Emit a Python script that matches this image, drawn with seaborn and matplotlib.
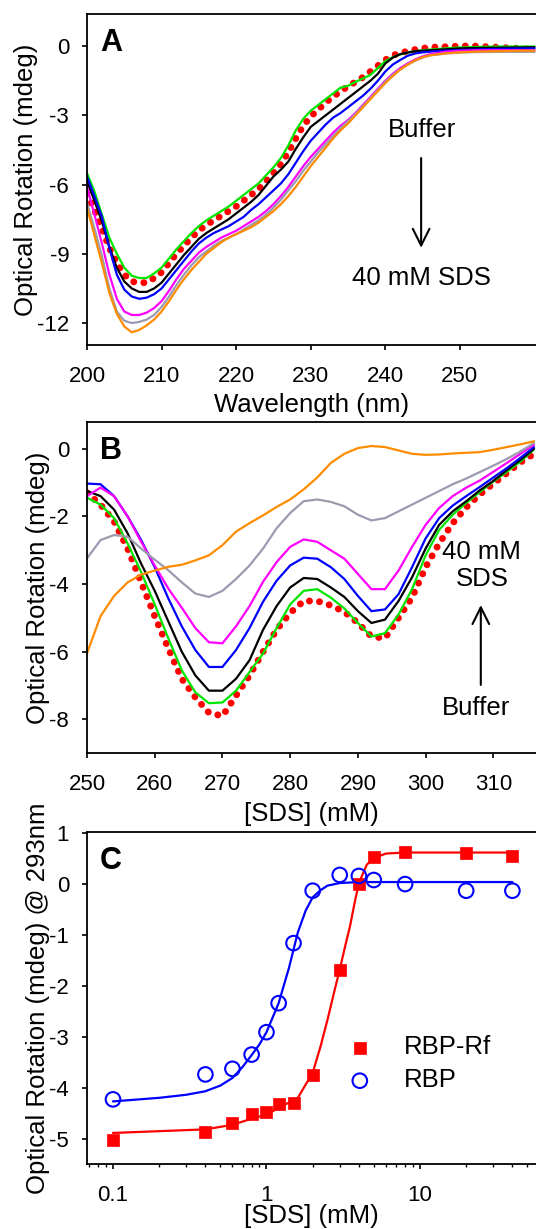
import numpy as np
import pandas as pd
import seaborn as sns
import matplotlib.pyplot as plt
from matplotlib.ticker import FixedLocator, LogLocator, NullFormatter

sns.set_style("ticks")
plt.rcParams["font.family"] = ["Liberation Sans", "DejaVu Sans"]
plt.rcParams["axes.unicode_minus"] = False
for k in ["text.color", "axes.labelcolor", "xtick.color", "ytick.color", "axes.edgecolor"]:
    plt.rcParams[k] = "black"

# ---- panel A : far-UV spectra ----
wl_a = list(range(200, 247)) + [248, 250, 252, 255, 258, 260]

a_buffer = [-6.4, -7.1, -7.9, -8.75, -9.4, -9.9, -10.2, -10.25, -10.25, -10.05,
            -9.8, -9.4, -9.0, -8.65, -8.3, -8.0, -7.75, -7.55, -7.35, -7.15,
            -6.95, -6.7, -6.45, -6.2, -5.85, -5.5, -5.1, -4.6, -4.0, -3.45,
            -3.05, -2.75, -2.45, -2.2, -1.95, -1.75, -1.55, -1.35, -1.1, -0.85,
            -0.6, -0.4, -0.3, -0.22, -0.15, -0.1, -0.05,
            -0.03, 0.0, 0.0, -0.05, -0.1, -0.15]
a_green = [-5.5, -6.3, -7.3, -8.3, -9.0, -9.6, -9.95, -10.05, -10.05, -9.85,
           -9.6, -9.2, -8.8, -8.45, -8.1, -7.8, -7.55, -7.35, -7.15, -6.95,
           -6.7, -6.45, -6.2, -5.95, -5.6, -5.25, -4.85, -4.3, -3.65, -3.15,
           -2.8, -2.55, -2.3, -2.05, -1.8, -1.72, -1.55, -1.4, -1.25, -0.95,
           -0.65, -0.48, -0.36, -0.28, -0.22, -0.18, -0.15,
           -0.1, -0.06, -0.04, -0.02, -0.02, -0.02]
a_black = [-5.85, -6.7, -7.6, -8.7, -9.6, -10.2, -10.5, -10.65, -10.65, -10.5,
           -10.25, -9.85, -9.45, -9.05, -8.7, -8.35, -8.1, -7.9, -7.7, -7.5,
           -7.25, -7.0, -6.75, -6.45, -6.05, -5.65, -5.35, -5.0, -4.45, -3.95,
           -3.5, -3.25, -3.0, -2.75, -2.5, -2.25, -2.0, -1.75, -1.5, -1.2,
           -0.75, -0.5, -0.35, -0.28, -0.22, -0.2, -0.18,
           -0.14, -0.1, -0.08, -0.07, -0.06, -0.05]
a_blue = [-5.65, -6.5, -7.4, -8.75, -9.9, -10.55, -10.85, -10.95, -10.9, -10.75,
          -10.5, -10.1, -9.7, -9.3, -8.9, -8.55, -8.3, -8.1, -7.95, -7.8,
          -7.6, -7.4, -7.1, -6.85, -6.55, -6.25, -5.95, -5.55, -5.05, -4.55,
          -4.1, -3.75, -3.4, -3.1, -2.9, -2.65, -2.4, -2.15, -1.85, -1.5,
          -1.1, -0.8, -0.6, -0.42, -0.32, -0.27, -0.24,
          -0.2, -0.17, -0.15, -0.12, -0.1, -0.1]
a_magenta = [-6.1, -7.3, -8.55, -9.9, -10.95, -11.5, -11.65, -11.65, -11.55, -11.35,
             -11.05, -10.6, -10.1, -9.65, -9.3, -8.95, -8.7, -8.5, -8.3, -8.15,
             -8.0, -7.8, -7.6, -7.4, -7.15, -6.85, -6.5, -6.1, -5.65, -5.2,
             -4.8, -4.45, -4.1, -3.75, -3.45, -3.2, -2.9, -2.55, -2.2, -1.85,
             -1.5, -1.2, -0.95, -0.75, -0.58, -0.45, -0.35,
             -0.25, -0.2, -0.18, -0.17, -0.18, -0.18]
a_gray = [-6.8, -7.9, -9.1, -10.5, -11.5, -11.9, -12.0, -11.95, -11.85, -11.65,
          -11.3, -10.85, -10.35, -9.9, -9.5, -9.15, -8.9, -8.65, -8.45, -8.3,
          -8.15, -7.95, -7.75, -7.55, -7.3, -7.0, -6.65, -6.25, -5.85, -5.4,
          -5.0, -4.6, -4.25, -3.9, -3.55, -3.25, -2.95, -2.6, -2.25, -1.9,
          -1.55, -1.25, -1.0, -0.8, -0.63, -0.5, -0.4,
          -0.32, -0.28, -0.26, -0.25, -0.25, -0.25]
a_orange = [-7.0, -8.2, -9.4, -10.7, -11.6, -12.15, -12.4, -12.3, -12.1, -11.85,
            -11.5, -11.05, -10.55, -10.1, -9.7, -9.35, -9.0, -8.75, -8.5, -8.3,
            -8.15, -8.0, -7.85, -7.65, -7.4, -7.15, -6.85, -6.5, -6.1, -5.65,
            -5.2, -4.8, -4.4, -4.0, -3.65, -3.35, -3.0, -2.65, -2.3, -1.95,
            -1.6, -1.3, -1.02, -0.8, -0.62, -0.48, -0.4,
            -0.32, -0.27, -0.24, -0.22, -0.2, -0.2]

# ---- panel B : near-UV spectra ----
wl_b = list(range(250, 317, 2))

b_buffer = [-1.3, -1.65, -2.15, -2.95, -3.95, -4.95, -5.9, -6.8, -7.35, -7.8,
            -7.9, -7.3, -6.7, -6.0, -5.35, -4.85, -4.5, -4.5, -4.63, -4.82,
            -5.15, -5.55, -5.6, -5.0, -4.4, -3.5, -2.8, -2.2, -1.73, -1.35,
            -1.03, -0.72, -0.4, -0.15]
b_green = [-1.45, -1.65, -2.05, -2.8, -3.65, -4.6, -5.6, -6.55, -7.2, -7.52,
           -7.5, -7.15, -6.6, -6.05, -5.3, -4.6, -4.2, -4.15, -4.4, -4.72,
           -5.15, -5.55, -5.45, -4.9, -4.15, -3.15, -2.4, -1.95, -1.6, -1.28,
           -0.97, -0.68, -0.38, -0.02]
b_black = [-1.25, -1.4, -1.8, -2.5, -3.4, -4.2, -5.1, -6.0, -6.7, -7.15,
           -7.15, -6.8, -6.25, -5.35, -4.65, -4.1, -3.82, -3.85, -4.1, -4.38,
           -4.8, -5.15, -5.05, -4.5, -3.8, -2.95, -2.25, -1.85, -1.55, -1.23,
           -0.95, -0.63, -0.33, 0.0]
b_blue = [-1.03, -1.05, -1.4, -2.0, -2.7, -3.5, -4.42, -5.25, -5.95, -6.45,
          -6.45, -5.95, -5.3, -4.52, -3.9, -3.45, -3.22, -3.25, -3.5, -3.85,
          -4.35, -4.8, -4.75, -4.3, -3.5, -2.65, -2.05, -1.68, -1.4, -1.13,
          -0.85, -0.57, -0.27, 0.05]
b_magenta = [-1.4, -1.15, -1.4, -2.0, -2.75, -3.45, -4.13, -4.7, -5.3, -5.72,
             -5.75, -5.25, -4.65, -3.93, -3.35, -2.9, -2.68, -2.75, -3.0, -3.25,
             -3.7, -4.15, -4.15, -3.6, -2.9, -2.25, -1.75, -1.4, -1.15, -0.94,
             -0.68, -0.42, -0.15, 0.12]
b_gray = [-3.24, -2.7, -2.55, -2.6, -2.95, -3.28, -3.59, -3.95, -4.28, -4.38,
          -4.2, -3.85, -3.45, -2.95, -2.35, -1.9, -1.55, -1.5, -1.57, -1.7,
          -1.95, -2.12, -2.05, -1.85, -1.65, -1.45, -1.25, -1.05, -0.88, -0.69,
          -0.5, -0.3, -0.08, 0.17]
b_orange = [-6.05, -4.95, -4.35, -3.95, -3.72, -3.6, -3.49, -3.43, -3.3, -3.15,
            -2.85, -2.45, -2.2, -1.97, -1.72, -1.5, -1.2, -0.85, -0.42, -0.15,
            0.02, 0.08, 0.05, -0.05, -0.15, -0.18, -0.17, -0.14, -0.12, -0.1,
            -0.03, 0.05, 0.13, 0.22]

# ---- panel C : signal at 293 nm vs SDS ----
sds = [0.1, 0.4, 0.6, 0.8, 1.0, 1.2, 1.5, 2, 3, 4, 5, 8, 20, 40]
rbp_rf = [-5.03, -4.87, -4.69, -4.52, -4.48, -4.33, -4.3, -3.76, -1.68, 0.0, 0.53, 0.64, 0.61, 0.55]
rbp = [-4.23, -3.74, -3.63, -3.35, -2.91, -2.34, -1.16, -0.13, 0.18, 0.16, 0.08, 0.0, -0.13, -0.13]

fit_x_rf = [0.1, 0.4, 0.6, 0.8, 1.0, 1.2, 1.6, 1.8, 2.0, 2.25, 2.5, 2.75, 3.0,
            3.25, 3.5, 3.75, 4.0, 4.5, 5.0, 6.0, 8.0, 40]
fit_rf = [-4.89, -4.82, -4.73, -4.61, -4.53, -4.4, -4.2, -3.94, -3.71, -3.19, -2.66,
          -2.14, -1.68, -1.23, -0.83, -0.37, 0.02, 0.38, 0.51, 0.6, 0.62, 0.62]
fit_x_rbp = [0.1, 0.2, 0.3, 0.4, 0.5, 0.6, 0.7, 0.8, 0.9, 1.0, 1.2, 1.4, 1.6,
             1.8, 2.0, 2.25, 2.5, 3.0, 4.0, 40]
fit_rbp = [-4.27, -4.2, -4.14, -4.07, -3.96, -3.81, -3.59, -3.36, -3.15, -2.91,
           -2.34, -1.65, -0.95, -0.52, -0.26, -0.12, -0.03, 0.02, 0.04, 0.04]

names = ["s1", "s2", "s3", "s4", "s5", "s6"]
pal = {"s1": "#00e600", "s2": "black", "s3": "#0000ff",
       "s4": "#ff00ff", "s5": "#9b9bb0", "s6": "#ff8c00"}

df_a = pd.DataFrame({
    "wl": wl_a * 6,
    "mdeg": a_green + a_black + a_blue + a_magenta + a_gray + a_orange,
    "sample": np.repeat(names, len(wl_a)),
})
df_b = pd.DataFrame({
    "wl": wl_b * 6,
    "mdeg": b_green + b_black + b_blue + b_magenta + b_gray + b_orange,
    "sample": np.repeat(names, len(wl_b)),
})

lab_fs = 18.5
tick_fs = 16
dots = dict(color="red", lw=5, linestyle=(0, (0.01, 1.45)), dash_capstyle="round")
arrow = dict(arrowstyle="->, head_length=0.6, head_width=0.3", lw=1.5,
             color="black", mutation_scale=20, shrinkA=0, shrinkB=0)

fig = plt.figure(figsize=(5.36, 12.29), dpi=100)
ax_a = fig.add_axes([0.1623, 0.7193, 0.8377, 0.2693])
ax_b = fig.add_axes([0.1623, 0.3871, 0.8377, 0.2698])
ax_c = fig.add_axes([0.1623, 0.0529, 0.8377, 0.2704])


def style(ax):
    ax.spines["right"].set_visible(False)
    for s in ["left", "bottom", "top"]:
        ax.spines[s].set_linewidth(1.3)
    ax.tick_params(direction="out", length=3.8, width=1.2,
                   labelsize=tick_fs, top=False, right=False)
    ax.tick_params(axis="x", pad=11)
    ax.tick_params(axis="y", pad=9)
    ax.tick_params(which="minor", direction="out", length=2.5, width=1.0)


# A
sns.lineplot(x=wl_a, y=a_buffer, ax=ax_a, **dots)
sns.lineplot(data=df_a, x="wl", y="mdeg", hue="sample", palette=pal,
             hue_order=names, linewidth=1.6, legend=False, ax=ax_a)
ax_a.set_xlim(200, 260.2)
ax_a.set_ylim(-12.95, 1.39)
ax_a.xaxis.set_major_locator(FixedLocator([200, 210, 220, 230, 240, 250]))
ax_a.yaxis.set_major_locator(FixedLocator([0, -3, -6, -9, -12]))
ax_a.set_xlabel("Wavelength (nm)", fontsize=lab_fs, labelpad=5)
ax_a.set_ylabel("Optical Rotation (mdeg)", fontsize=lab_fs, labelpad=-0.5)
ax_a.text(244.9, -3.64, "Buffer", ha="center", va="center", fontsize=lab_fs)
ax_a.text(244.8, -10.06, "40 mM SDS", ha="center", va="center", fontsize=lab_fs)
ax_a.annotate("", xy=(244.8, -8.74), xytext=(244.8, -4.85), arrowprops=arrow)

# B
sns.lineplot(x=wl_b, y=b_buffer, ax=ax_b, **dots)
sns.lineplot(data=df_b, x="wl", y="mdeg", hue="sample", palette=pal,
             hue_order=names, linewidth=1.6, legend=False, ax=ax_b)
ax_b.set_xlim(250, 316.3)
ax_b.set_ylim(-9, 0.8)
ax_b.xaxis.set_major_locator(FixedLocator([250, 260, 270, 280, 290, 300, 310]))
ax_b.yaxis.set_major_locator(FixedLocator([0, -2, -4, -6, -8]))
ax_b.set_xlabel("[SDS] (mM)", fontsize=lab_fs, labelpad=5)
ax_b.set_ylabel("Optical Rotation (mdeg)", fontsize=lab_fs, labelpad=-0.5)
ax_b.text(308.3, -3.45, "40 mM\nSDS", ha="center", va="center",
          fontsize=lab_fs, linespacing=1.15)
ax_b.text(307.4, -7.67, "Buffer", ha="center", va="center", fontsize=lab_fs)
ax_b.annotate("", xy=(308.15, -4.62), xytext=(308.15, -6.98), arrowprops=arrow)

# C
sns.lineplot(x=fit_x_rf, y=fit_rf, color="red", lw=1.6, ax=ax_c)
sns.lineplot(x=fit_x_rbp, y=fit_rbp, color="blue", lw=1.6, ax=ax_c)
sns.scatterplot(x=sds, y=rbp_rf, marker="s", color="red", edgecolor="red",
                s=85, linewidth=0.5, label="RBP-Rf", ax=ax_c, zorder=3)
sns.scatterplot(x=sds, y=rbp, marker="o", facecolors="none", edgecolor="blue",
                s=110, linewidth=1.5, label="RBP", ax=ax_c, zorder=3)
ax_c.set_xscale("log")
ax_c.set_xlim(0.0677, 57)
ax_c.set_ylim(-5.5, 1.03)
ax_c.xaxis.set_major_locator(FixedLocator([0.1, 1, 10]))
ax_c.set_xticklabels(["0.1", "1", "10"])
ax_c.xaxis.set_minor_locator(LogLocator(base=10, subs=np.arange(2, 10)))
ax_c.xaxis.set_minor_formatter(NullFormatter())
ax_c.yaxis.set_major_locator(FixedLocator([1, 0, -1, -2, -3, -4, -5]))
ax_c.set_xlabel("[SDS] (mM)", fontsize=lab_fs, labelpad=-1)
ax_c.set_ylabel("Optical Rotation (mdeg) @ 293nm", fontsize=lab_fs, labelpad=-0.5)
ax_c.legend(loc="center left", bbox_to_anchor=(0.579, 0.301), frameon=False,
            fontsize=lab_fs, handlelength=1.0, handletextpad=1.2, borderpad=0,
            borderaxespad=0, labelspacing=0.35)

for ax, letter in zip([ax_a, ax_b, ax_c], "ABC"):
    style(ax)
    ax.text(0.029, 0.958, letter, transform=ax.transAxes, ha="left", va="top",
            fontsize=22, fontweight="bold")

fig.savefig("out.png", dpi=100)
